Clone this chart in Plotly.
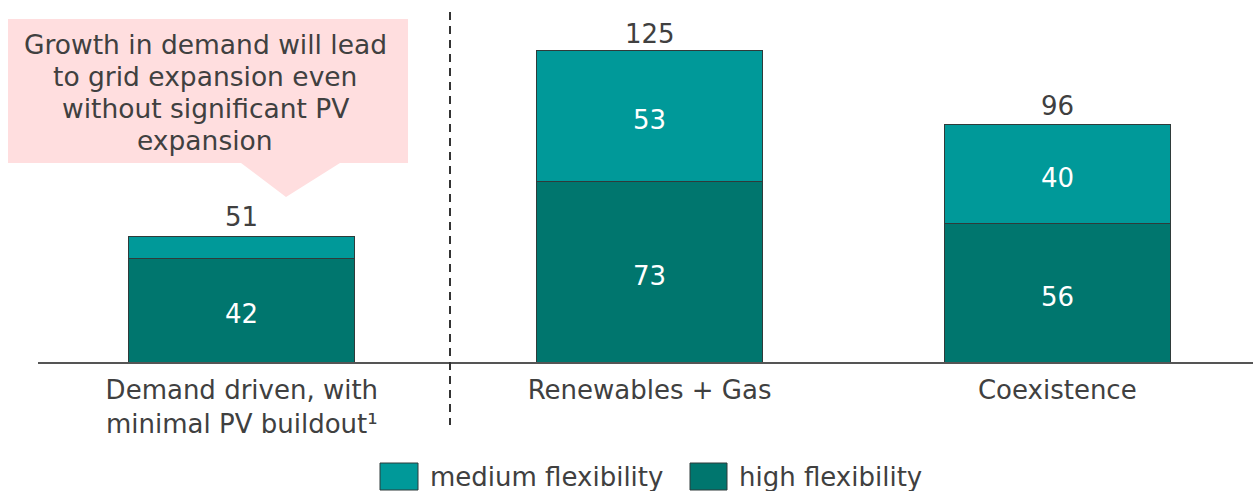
import plotly.graph_objects as go

categories = ["Demand driven, with<br>minimal PV buildout¹", "Renewables + Gas", "Coexistence"]
high_flex = [42, 73, 56]
medium_flex = [9, 53, 40]
totals = [51, 125, 96]
show_medium_label = [False, True, True]

C_MED = "#009999"
C_HIGH = "#00766E"
C_TEXT = "#404040"
FONT = "DejaVu Sans"

W, H = 1253, 491
ML, MR, MT, MB = 38, 0, 0, 129
PLOT_W, PLOT_H = W - ML - MR, H - MT - MB


def px(x):
    return (x - ML) / PLOT_W


def py(y):
    return (H - MB - y) / PLOT_H


fig = go.Figure()
fig.add_trace(go.Bar(
    x=categories, y=high_flex, name="high flexibility",
    marker=dict(color=C_HIGH, line=dict(color="#2f3b3a", width=1)),
    showlegend=False, hoverinfo="y+name",
))
fig.add_trace(go.Bar(
    x=categories, y=medium_flex, name="medium flexibility",
    marker=dict(color=C_MED, line=dict(color="#2f3b3a", width=1)),
    showlegend=False, hoverinfo="y+name",
))

annotations = []
# segment value labels, centred in each segment
for cat, hi, med, show_med in zip(categories, high_flex, medium_flex, show_medium_label):
    annotations.append(dict(x=cat, y=hi / 2, text=str(hi), showarrow=False, yshift=-4,
                            font=dict(color="white", size=26, family=FONT)))
    if show_med:
        annotations.append(dict(x=cat, y=hi + med / 2, text=str(med), showarrow=False,
                                yshift=-4, font=dict(color="white", size=26, family=FONT)))
# totals above each stack
for cat, tot in zip(categories, totals):
    annotations.append(dict(x=cat, y=tot, text=str(tot), showarrow=False, yanchor="bottom",
                            yshift=2, font=dict(color=C_TEXT, size=26, family=FONT)))

shapes = []
# dashed separator between first and second scenario
shapes.append(dict(type="line", xref="paper", yref="paper",
                   x0=px(450), x1=px(450), y0=py(12), y1=py(425),
                   line=dict(color="#333333", width=2, dash="8px,6px")))
# callout box with pointer
shapes.append(dict(type="path", xref="paper", yref="paper",
                   path=(f"M {px(8)} {py(19)} L {px(408)} {py(19)} L {px(408)} {py(163)} "
                         f"L {px(340)} {py(163)} L {px(286)} {py(197)} L {px(241)} {py(163)} "
                         f"L {px(8)} {py(163)} Z"),
                   fillcolor="#FFDEDF", line=dict(width=0), layer="below"))

callout_lines = ["Growth in demand will lead", "to grid expansion even",
                 "without significant PV", "expansion"]
for i, line in enumerate(callout_lines):
    annotations.append(dict(xref="paper", yref="paper", x=px(205), y=py(45 + 32 * i),
                            text=line, showarrow=False, xanchor="center", yanchor="middle",
                            font=dict(color=C_TEXT, size=26.5, family=FONT)))

# legend drawn as swatches with labels
legend_items = [("medium flexibility", C_MED, 380, 418), ("high flexibility", C_HIGH, 690, 727)]
for label, col, x0, x1 in legend_items:
    shapes.append(dict(type="rect", xref="paper", yref="paper",
                       x0=px(x0), x1=px(x1), y0=py(463), y1=py(490),
                       fillcolor=col, line=dict(color="#2f3b3a", width=1)))
    annotations.append(dict(xref="paper", yref="paper", x=px(x1 + 10), y=py(477),
                            text=label, showarrow=False, xanchor="left", yanchor="middle",
                            font=dict(color=C_TEXT, size=26, family=FONT)))

fig.update_layout(
    width=W, height=H, barmode="stack", bargap=0.446,
    margin=dict(l=ML, r=MR, t=MT, b=MB),
    paper_bgcolor="white", plot_bgcolor="white",
    font=dict(family=FONT, color=C_TEXT, size=26),
    shapes=shapes, annotations=annotations,
    xaxis=dict(range=[-0.5, 2.48], showgrid=False, showline=True, linecolor="#555555",
               linewidth=1.5, ticks="", ticklabelstandoff=4,
               tickfont=dict(size=26, color=C_TEXT, family=FONT)),
    yaxis=dict(range=[0, 146.6], visible=False),
)

fig.write_html("out.html")
